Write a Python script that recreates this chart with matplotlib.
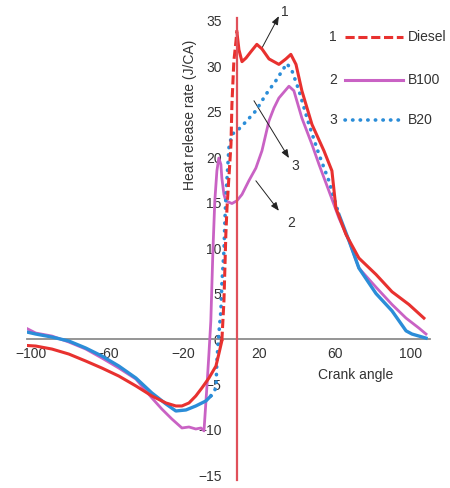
import numpy as np
import matplotlib
matplotlib.use("Agg")
import matplotlib.pyplot as plt

plt.rcParams['font.family'] = ['Liberation Sans', 'DejaVu Sans']

# ---- data ----
diesel_x = [-102, -97.4, -88.9, -80.0, -71.1, -62.6, -53.7, -44.7, -36.3, -28.9, -23.7, -20.5, -16.8,
            -13.2, -10.0, -6.3, -2.6, -1.1, 0.5, 1.6, 2.1, 2.6, 3.2,
            5.3, 5.8, 6.8, 7.9, 8.4, 9.5, 11.1, 13.2, 15.8, 18.9, 21.6, 25.3, 30.5, 34.2, 36.8, 39.5,
            42.6, 47.9, 54.2, 58.4, 60.5, 65.8, 72.6, 81.6, 90.0, 98.9, 106.8]
diesel_y = [-0.71, -0.77, -1.1, -1.65, -2.42, -3.19, -4.07, -5.16, -6.26, -7.03, -7.36, -7.36, -7.03,
            -6.26, -5.38, -4.29, -2.97, -1.65, -0.2, 4.2, 7.8, 11.5, 14.4,
            21.4, 25.8, 30.5, 32.7, 33.8, 31.8, 30.5, 30.9, 31.6, 32.4, 31.9, 30.8, 30.2, 30.8, 31.3, 30.2,
            27.3, 23.6, 20.7, 18.5, 14.4, 11.5, 8.9, 7.1, 5.2, 3.8, 2.3]

b20_x = [-102, -97.4, -88.9, -80.0, -71.1, -62.6, -53.7, -44.7, -36.3, -28.9, -23.7, -18.4, -13.2,
         -7.9, -5.3, -2.6, -2.1, -1.1, 0, 0.5, 1.6,
         2.1, 2.6, 4.2, 5.8, 9.5, 13.2, 18.4, 23.7, 28.9, 34.7, 37.4, 41.1, 46.3, 51.6, 56.8, 62.1,
         67.4, 72.6, 81.6, 90.0, 97.4, 100.5, 107.9]
b20_y = [0.77, 0.55, 0.22, -0.22, -0.99, -1.87, -2.97, -4.29, -5.93, -7.14, -7.91, -7.8, -7.36,
         -6.81, -6.26, -5.4, -2.4, 0.55, 3.1, 6.0, 9.7,
         13.0, 15.5, 21.0, 22.5, 23.1, 23.9, 25.1, 26.9, 28.4, 30.3, 29.5, 27.3, 23.6, 20.3, 17.4, 13.7,
         10.8, 7.8, 5.0, 3.1, 0.9, 0.55, 0.1]

b100_x = [-102, -97.4, -88.9, -80.0, -71.1, -62.6, -53.7, -44.7, -36.3, -31.1, -25.8, -20.5, -16.8,
          -13.2, -10.5, -8.9, -7.4, -6.3, -5.3, -4.2, -3.2, -2.1, -1.1, 0, 0.5, 1.6, 2.6, 5.8, 8.4,
          11.1, 14.7, 18.4, 21.6, 25.3, 27.9, 30.5, 35.8,
          38.4, 42.6, 47.9, 51.6, 56.8, 62.1, 67.4, 72.6, 81.6, 90.0, 97.4, 104.2, 107.9]
b100_y = [1.15, 0.66, 0.33, -0.33, -1.1, -2.09, -3.19, -4.4, -6.48, -7.69, -8.79, -9.78, -9.67,
          -9.89, -9.78, -10.1, -5.38, -1.65, 1.98, 9.7, 15.2, 18.5, 19.9, 19.2, 17.7, 15.9, 15.2, 14.9, 15.2,
          15.9, 17.4, 18.8, 20.7, 24.0, 25.4, 26.5, 27.8,
          27.3, 24.3, 21.4, 19.2, 16.3, 13.3, 10.8, 7.8, 5.7, 3.8, 2.3, 1.2, 0.55]

x_ticks = [-100, -60, -20, 20, 60, 100]
y_ticks = [-15, -10, -5, 0, 5, 10, 15, 20, 25, 30, 35]
series_names = ["Diesel", "B100", "B20"]
series_nums = ["1", "2", "3"]

RED = '#e8312f'
PINK = '#c962c4'
BLUE = '#2b8dd8'
TXT = '#333333'

fig = plt.figure(figsize=(4.5, 4.88), dpi=100)
ax = fig.add_axes([27/450, 8/488, 403/450, 462/488])
ax.set_xlim(-102, 110)
ax.set_ylim(-15.5, 35.3)
ax.set_axisbelow(True)

dx = np.array(diesel_x); dy = np.array(diesel_y)
bx = np.array(b20_x); by = np.array(b20_y)
px = np.array(b100_x); py = np.array(b100_y)

# B100 (solid)
ax.plot(px, py, color=PINK, lw=2.0, zorder=3)

# B20: solid at ends, dotted in the middle
m1 = bx <= -5.3
m2 = (bx >= -5.3) & (bx <= 62.1)
m3 = bx >= 62.1
ax.plot(bx[m1], by[m1], color=BLUE, lw=2.4, zorder=4)
ax.plot(bx[m2], by[m2], color=BLUE, lw=2.6, linestyle=(0, (0.1, 2.0)),
        dash_capstyle='round', zorder=4)
ax.plot(bx[m3], by[m3], color=BLUE, lw=2.4, zorder=4)

# Diesel: solid with dashed steep rise
d1 = dx <= 0.5
d2 = (dx >= 0.5) & (dx <= 8.4)
d3 = dx >= 8.4
ax.plot(dx[d1], dy[d1], color=RED, lw=2.2, zorder=5)
ax.plot(dx[d2], dy[d2], color=RED, lw=2.2, linestyle=(0, (3, 1.2)), zorder=5)
ax.plot(dx[d3], dy[d3], color=RED, lw=2.2, zorder=5)

# spines
for s in ['top', 'right']:
    ax.spines[s].set_visible(False)
ax.spines['bottom'].set_position(('data', 0))
ax.spines['bottom'].set_color('#8c8c8c')
ax.spines['bottom'].set_linewidth(1.3)
ax.spines['left'].set_position(('data', 8.4))
ax.spines['left'].set_color('#e0505a')
ax.spines['left'].set_linewidth(1.6)
ax.spines['left'].set_zorder(6)

ax.set_xticks(x_ticks)
ax.set_xticklabels([f"\u2212{abs(v)}" if v < 0 else str(v) for v in x_ticks])
ax.set_yticks(y_ticks)
ax.set_yticklabels([f"\u2212{abs(v)}" if v < 0 else str(v) for v in y_ticks])
ax.tick_params(axis='x', length=0, pad=6, labelsize=10, labelcolor=TXT)
ax.tick_params(axis='y', length=0, pad=11, labelsize=10, labelcolor=TXT)

# axis labels
fig.text(190/450, 1 - 115/488, "Heat release rate (J/CA)", rotation=90,
         ha='center', va='center', fontsize=10, color=TXT)
fig.text(356/450, 1 - 375/488, "Crank angle", ha='center', va='center',
         fontsize=10, color=TXT)

# callout arrows
arrow_kw = dict(arrowstyle='-|>,head_length=0.5,head_width=0.2', color='#222222', lw=0.7,
                shrinkA=0, shrinkB=0)
ax.annotate('', xy=(30.5, 35.5), xytext=(21.6, 32.0), arrowprops=arrow_kw, annotation_clip=False)
ax.annotate('', xy=(35.8, 19.9), xytext=(17.4, 26.2), arrowprops=arrow_kw)
ax.annotate('', xy=(30.5, 14.1), xytext=(18.4, 17.4), arrowprops=arrow_kw)
ax.text(33.7, 36.0, "1", fontsize=10, color=TXT, ha='center', va='center', clip_on=False)
ax.text(38.9, 19.0, "3", fontsize=10, color=TXT, ha='center', va='center')
ax.text(36.8, 12.8, "2", fontsize=10, color=TXT, ha='center', va='center')

# manual legend
rows_y = [0.959, 0.866, 0.779]
styles = [dict(color=RED, lw=2.2, linestyle=(0, (3, 1.2))),
          dict(color=PINK, lw=2.2),
          dict(color=BLUE, lw=2.6, linestyle=(0, (0.1, 2.0)), dash_capstyle='round')]
for num, name, yy, st in zip(series_nums, series_names, rows_y, styles):
    ax.text(0.759, yy, num, transform=ax.transAxes, fontsize=10, color=TXT,
            ha='center', va='center')
    ax.plot([0.789, 0.933], [yy, yy], transform=ax.transAxes, clip_on=False, **st)
    ax.text(0.945, yy, name, transform=ax.transAxes, fontsize=10, color=TXT,
            ha='left', va='center', clip_on=False)

fig.savefig("out.png", dpi=100)
